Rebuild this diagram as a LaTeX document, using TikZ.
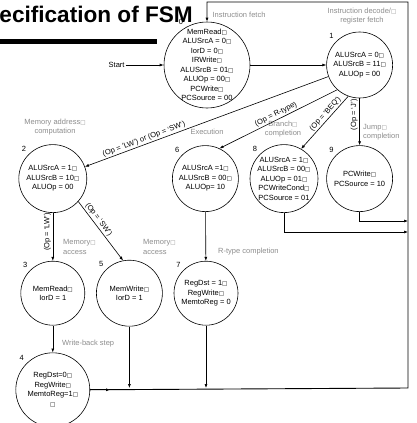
\documentclass[tikz,border=0pt]{standalone}
\usepackage{fontspec}
\setmainfont{Liberation Sans}
\newfontfamily\sqfont{DejaVu Sans}[Scale=0.75]
\newcommand\nlsq{{\sqfont □}}
\usetikzlibrary{arrows.meta, positioning}

\begin{document}
\begin{tikzpicture}[
  x=1pt, y=1pt,
  label distance=2pt,
  every node/.style={font=\fontsize{7.5}{9.5}\selectfont},
  state/.style={draw, circle, minimum size=66pt, inner sep=-6pt, align=center, line width=0.6pt},
  num/.style={inner sep=1pt},
  note/.style={text=black!45, inner sep=0pt, align=center},
  cond/.style={sloped, above, inner sep=1.5pt},
  vcond/.style={rotate=90, anchor=south, inner sep=1.5pt},
  arr/.style={-{Latex[length=4pt, width=3pt]}, line width=0.6pt},
  bus/.style={line width=0.9pt}
]
\useasboundingbox (0,0) rectangle (416,-423);

% Title, cut at the left edge
\node[font=\fontsize{22.6}{26}\selectfont\bfseries, anchor=base east, inner sep=0pt] (title) at (193,-22) {Specification of FSM};
\fill (0,-39) rectangle (157,-44);

% Fetch and decode
\node[state, minimum size=86pt, label={[num]120:0}] (s0) at (207,-65)
  {MemRead\nlsq\\ALUSrcA = 0\nlsq\\IorD = 0\nlsq\\IRWrite\nlsq\\ALUSrcB = 01\nlsq\\ALUOp = 00\nlsq\\PCWrite\nlsq\\PCSource = 00};
\node[state, right=76pt of s0, label={[num]135:1}] (s1) {ALUSrcA = 0\nlsq\\ALUSrcB = 11\nlsq\\ALUOp = 00};
\node[left=38pt of s0, inner sep=1pt] (start) {Start};

% Second row: right to left
\node[state, below=47pt of s1, label={[num]135:9}] (s9) {PCWrite\nlsq\\PCSource = 10};
\node[state, minimum size=68pt, left=8pt of s9, label={[num]135:8}] (s8)
  {ALUSrcA = 1\nlsq\\ALUSrcB = 00\nlsq\\ALUOp = 01\nlsq\\PCWriteCond\nlsq\\PCSource = 01};
\node[state, left=11pt of s8, label={[num]135:6}] (s6) {ALUSrcA =1\nlsq\\ALUSrcB = 00\nlsq\\ALUOp= 10};
\node[state, minimum size=68pt, left=85pt of s6, label={[num]135:2}] (s2) {ALUSrcA = 1\nlsq\\ALUSrcB = 10\nlsq\\ALUOp = 00};

% Third row and write-back
\node[state, minimum size=64pt, below=48pt of s2, label={[num]135:3}] (s3) {MemRead\nlsq\\IorD = 1};
\node[state, right=11pt of s3, label={[num]135:5}] (s5) {MemWrite\nlsq\\IorD = 1};
\node[state, minimum size=64pt, right=11pt of s5, label={[num]135:7}] (s7) {RegDst = 1\nlsq\\RegWrite\nlsq\\MemtoReg = 0};
\node[state, minimum size=74pt, below=27pt of s3, label={[num]135:4}] (s4) {RegDst=0\nlsq\\RegWrite\nlsq\\MemtoReg=1\nlsq\\\nlsq};

% Step names
\node[note] (nfetch) at (239,-15) {Instruction fetch};
\node[note] (ndecode) at (362,-16) {Instruction decode/\nlsq\\register fetch};
\node[note] (naddr) at (55,-127) {Memory address\nlsq\\computation};
\node[note] (nexec) at (207,-132) {Execution};
\node[note] (nbranch) at (283,-129) {Branch\nlsq\\completion};
\node[note, anchor=west, align=left] (njump) at (363,-132) {Jump\nlsq\\completion};
\node[note, anchor=west, align=left] (nmem1) at (63,-247) {Memory\nlsq\\access};
\node[note, anchor=west, align=left] (nmem2) at (143,-247) {Memory\nlsq\\access};
\node[note, anchor=west] (nrtype) at (218,-252) {R-type completion};
\node[note, anchor=west] (nwb) at (62,-344) {Write-back step};

% Return bus
\coordinate (bl) at (408,-388);
\coordinate (tr) at (408,-2);
\coordinate (e9) at (408,-221);
\coordinate (e8) at (408,-232);

\draw[arr] (start) -- (s0);
\draw[arr] (s0) -- (s1);

% Dispatch on Op
\draw[arr] (s1) -- node[cond, pos=0.75] {(Op = `LW') or (Op = `SW')} (s2);
\draw[arr] (s1.228) -- node[cond, pos=0.5] {(Op = R-type)} (s6.65);
\draw[arr] (s1.250) -- node[cond, pos=0.4] {(Op = `BEQ')} (s8.60);
\draw[arr] (s1) -- node[vcond, pos=0.35] {(Op = `J')} (s9);
\draw[arr] (s2) -- node[vcond, pos=0.4] {(Op = `LW')} (s3);
\draw[arr] (s2.-42) -- node[cond, pos=0.36] {(Op = `SW')} (s5.101);
\draw[arr] (s6) -- (s7);
\draw[arr] (s3) -- (s4);

% Back to fetch
\draw[arr] (s8.south) |- (e8);
\draw[arr] (s9.south) |- (e9);
\draw[arr] (s5) -- (s5 |- bl);
\draw[arr] (s7) -- (s7 |- bl);
\draw[arr, bus] (s4.east) -- ++(20,0);
\draw[arr, bus] (s4.east) -- (bl) -- (tr) -| (s0);

\end{tikzpicture}
\end{document}
